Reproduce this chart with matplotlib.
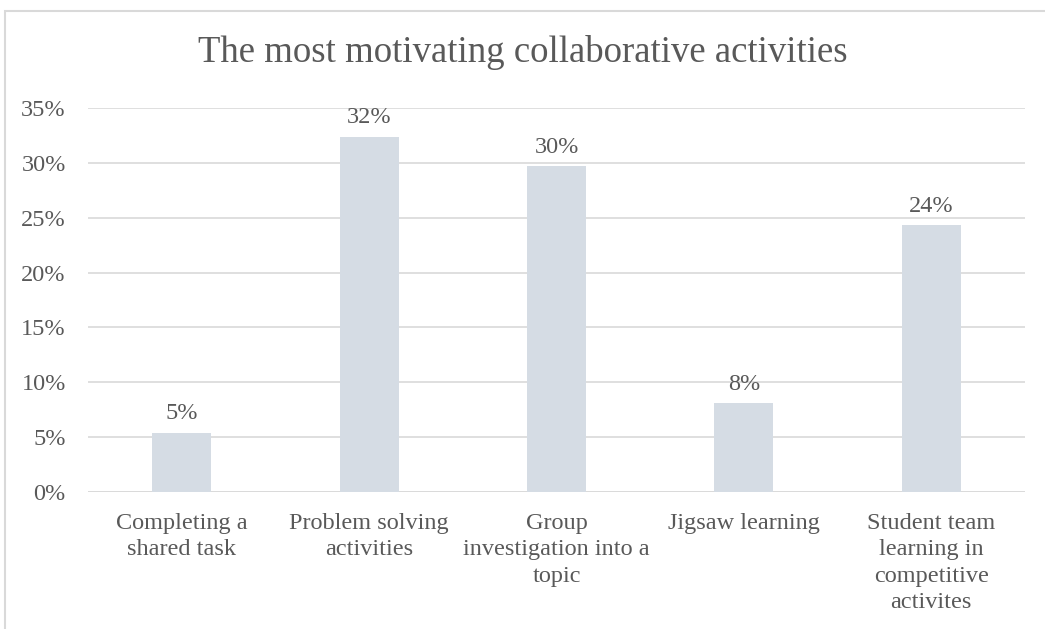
import matplotlib
matplotlib.use("Agg")
import matplotlib.pyplot as plt
from matplotlib.patches import Rectangle
from matplotlib.ticker import PercentFormatter, MultipleLocator

categories = [
    "Completing a\nshared task",
    "Problem solving\nactivities",
    "Group\ninvestigation into a\ntopic",
    "Jigsaw learning",
    "Student team\nlearning in\ncompetitive\nactivites",
]
shares = [0.054, 0.324, 0.297, 0.081, 0.243]
title = "The most motivating collaborative activities"

text_color = "#595959"
bar_color = "#D5DCE4"
grid_color = "#D9D9D9"
label_size = 17.5

plt.rcParams["font.family"] = ["Liberation Serif", "DejaVu Serif"]

fig = plt.figure(figsize=(10.45, 6.29), dpi=100)
ax = fig.add_axes([88 / 1045, 1 - 492 / 629, (1025 - 88) / 1045, (492 - 108) / 629])

x = list(range(len(categories)))
bars = ax.bar(x, shares, width=0.315, color=bar_color, zorder=2)
for b, v in zip(bars, shares):
    ax.annotate(f"{v:.0%}", (b.get_x() + b.get_width() / 2, v),
                xytext=(0, 6), textcoords="offset points",
                ha="center", va="bottom", fontsize=label_size, color=text_color)

ax.set_xlim(-0.5, len(categories) - 0.5)
ax.set_ylim(0, 0.35)
ax.yaxis.set_major_locator(MultipleLocator(0.05))
ax.yaxis.set_major_formatter(PercentFormatter(1.0, decimals=0))
ax.set_xticks(x)
ax.set_xticklabels(categories, fontsize=label_size, color=text_color, va="top",
                   linespacing=1.34)
ax.tick_params(axis="y", labelsize=label_size, labelcolor=text_color, length=0, pad=16)
ax.tick_params(axis="x", length=0, pad=15)
ax.grid(axis="y", color=grid_color, linewidth=1.2, zorder=0)
for s in ax.spines.values():
    s.set_visible(False)
ax.axhline(0, color=grid_color, linewidth=1.2, zorder=1)

fig.text(0.5, 1 - 53 / 629, title, ha="center", va="center",
         fontsize=26.5, color=text_color)

# outer chart border (top and left edges visible)
fig.patches.append(Rectangle((5 / 1045, -0.1), 1.2, 1 - 11 / 629 + 0.1,
                             transform=fig.transFigure, fill=False,
                             edgecolor=grid_color, linewidth=1.5))

fig.savefig("out.png", dpi=100)
